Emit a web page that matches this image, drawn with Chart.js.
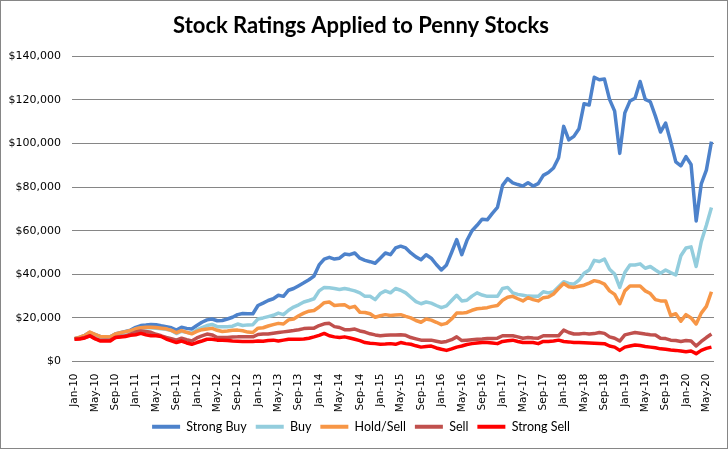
<!DOCTYPE html>
<html lang="en">
<head>
    <meta charset="UTF-8">
    <title>Stock Ratings Applied to Penny Stocks</title>
    <style>
        body {
            margin: 0;
            padding: 0;
            background-color: #fff;
        }
        canvas {
            display: block;
        }
    </style>
</head>
<body>
    <canvas id="lineChart" width="728" height="449"></canvas>

    <script src="https://cdn.jsdelivr.net/npm/chart.js"></script>
    <script>
        // Months Jan-10 .. Jun-20
        const monthNames = ['Jan', 'Feb', 'Mar', 'Apr', 'May', 'Jun', 'Jul', 'Aug', 'Sep', 'Oct', 'Nov', 'Dec'];
        const years = ['10', '11', '12', '13', '14', '15', '16', '17', '18', '19', '20'];
        const labels = [];
        years.forEach(y => {
            monthNames.forEach(m => labels.push(m + '-' + y));
        });
        labels.length = 126;

        const seriesNames = ['Strong Buy', 'Buy', 'Hold/Sell', 'Sell', 'Strong Sell'];
        const seriesColors = ['#4D82CB', '#93CDDD', '#F79646', '#C0504D', '#FF0000'];

        const strongBuy = [
            10500, 11000, 12000, 13300, 12300, 11500, 11300, 11300, 12600, 13200, 13800, 14400,
            15700, 16500, 16700, 17000, 16900, 16400, 16000, 15500, 14400, 15700, 15200, 14900,
            16500, 18000, 19100, 19500, 18700, 18800, 19500, 20300, 21500, 22000, 21900, 21900,
            25700, 26800, 28000, 28800, 30400, 29900, 32700, 33500, 34800, 36100, 37500, 39200,
            44300, 47000, 47800, 47000, 47400, 49300, 49000, 49800, 47400, 46400, 45800, 45100,
            47400, 49800, 49000, 52100, 52900, 52100, 49800, 48000, 46700, 49000, 47400, 44500,
            42000, 44300, 50000, 55900, 49000, 55500, 60000, 62500, 65300, 65000, 68000, 70700,
            80800, 83900, 82000, 81200, 80500, 82000, 80500, 81600, 85400, 86700, 88800, 93500,
            107900, 101700, 103300, 106800, 118300, 117700, 130400, 129300, 129600, 120300, 114900, 95500,
            114100, 119500, 120800, 128500, 120300, 119200, 112600, 105300, 109400, 100900, 91600, 89800,
            94000, 90400, 64500, 81500, 87800, 100900
        ];
        const buy = [
            10500, 11000, 12000, 13300, 12300, 11500, 11300, 11200, 12400, 13000, 13500, 14000,
            15000, 15300, 15500, 15500, 15300, 15000, 14800, 14200, 12800, 13900, 13400, 13000,
            14500, 15500, 16500, 17000, 16000, 16000, 16000, 16200, 17200, 16500, 16800, 16900,
            19500, 20000, 20600, 21200, 22200, 21500, 23500, 25000, 26000, 27300, 28000, 28800,
            32400, 34000, 33800, 33500, 33000, 33500, 33000, 32400, 31500, 29900, 29900, 28400,
            31200, 32400, 31500, 33500, 32700, 31500, 29500, 27500, 26500, 27300, 26800, 25700,
            24700, 25500, 28000, 30400, 27800, 28100, 30000, 31500, 30500, 29900, 29900, 29900,
            33500, 34000, 31500, 30800, 30400, 30000, 29900, 29900, 32000, 31500, 32000, 34300,
            36600, 35800, 35500, 37300, 40500, 42000, 46400, 45900, 47000, 42300, 40100, 34000,
            40800, 44300, 44300, 44800, 42800, 43600, 42000, 40500, 42000, 40800, 39700, 48500,
            52100, 52600, 43600, 55000, 62500, 70700
        ];
        const holdSell = [
            10500, 11200, 12000, 13500, 12500, 11500, 11400, 11300, 12600, 13200, 13700, 14200,
            15000, 15500, 15700, 15700, 15600, 15300, 15000, 14300, 13200, 14200, 13400, 12700,
            13800, 14600, 14900, 15200, 14300, 13800, 14000, 14300, 14400, 14100, 13500, 13300,
            15300, 15500, 16300, 16900, 17500, 17200, 19100, 19500, 21000, 22200, 23100, 23400,
            25000, 27000, 27300, 25700, 25900, 26000, 24700, 25300, 22600, 22500, 21900, 20300,
            21000, 21500, 21100, 21300, 21500, 20700, 20000, 18800, 18000, 19500, 19000, 18000,
            16900, 17500, 19500, 22200, 22200, 22500, 23500, 24200, 24400, 24700, 25300, 25700,
            28100, 29500, 29900, 28800, 27800, 29300, 28400, 27800, 29300, 29600, 31000, 33500,
            35800, 34300, 34000, 34500, 35000, 36000, 37100, 36600, 35500, 32400, 30800, 26500,
            32400, 34600, 34600, 34600, 32400, 31200, 28400, 27800, 27800, 21100, 21900, 18500,
            21500, 20000, 17200, 22200, 25300, 32000
        ];
        const sell = [
            10300, 10500, 11000, 11800, 10500, 9800, 9800, 9800, 11000, 11500, 11800, 12600,
            13500, 14000, 13800, 13400, 12500, 11800, 11000, 10500, 9800, 10700, 10000, 9400,
            10800, 11800, 12600, 12200, 11000, 11000, 11000, 11200, 11300, 11300, 11300, 11300,
            12400, 12600, 12600, 13000, 13300, 13600, 13900, 14200, 14600, 15100, 15300, 15300,
            16500, 17300, 17500, 16000, 15600, 14600, 14600, 14900, 14000, 13500, 12700, 12200,
            11800, 12000, 12200, 12200, 12300, 12000, 11000, 10400, 9800, 9800, 9800, 9300,
            8800, 9200, 10000, 11300, 9600, 9800, 10000, 10200, 10300, 10500, 10600, 10700,
            11800, 11800, 11800, 11300, 10700, 11000, 10800, 10700, 11800, 11800, 11800, 11800,
            14400, 13300, 12600, 12600, 12900, 12600, 12800, 13300, 12900, 11300, 10700, 9400,
            12200, 12800, 13300, 13000, 12600, 12300, 12200, 10700, 10500, 9800, 9600, 9200,
            9600, 9400, 7100, 9200, 11000, 12600
        ];
        const strongSell = [
            10200, 10300, 10800, 11800, 10500, 9400, 9400, 9400, 11000, 11200, 11500, 12000,
            12300, 12900, 12300, 11800, 11800, 11500, 10300, 9500, 8700, 9400, 8500, 7900,
            8700, 9400, 10200, 10200, 9800, 9800, 9600, 9400, 9300, 9200, 9200, 9200,
            9400, 9300, 9600, 9800, 9400, 9800, 10200, 10200, 10200, 10300, 10700, 11300,
            12000, 12900, 11800, 11300, 11000, 11300, 10800, 10200, 9600, 8700, 8400, 8200,
            7900, 8000, 8200, 7900, 8700, 8200, 7900, 7200, 6600, 6900, 7100, 6200,
            5600, 5100, 5800, 6600, 7100, 7800, 8200, 8500, 8700, 8700, 8500, 8200,
            9200, 9500, 9800, 9200, 8700, 8700, 8700, 8200, 9200, 9200, 9400, 9800,
            9200, 9000, 8700, 8700, 8600, 8500, 8400, 8300, 8200, 7100, 6600, 5100,
            6600, 7100, 7600, 7300, 6900, 6600, 6300, 5800, 5600, 5300, 5100, 4800,
            4500, 4800, 3600, 5100, 6000, 6600
        ];

        const yTicks = { min: 0, max: 140000, step: 20000 };

        const allSeries = [strongBuy, buy, holdSell, sell, strongSell];

        // white background + grey chart border like the original
        const frame = {
            id: 'frame',
            beforeDraw(chart) {
                const c = chart.ctx;
                c.save();
                c.fillStyle = '#fff';
                c.fillRect(0, 0, chart.width, chart.height);
                c.strokeStyle = '#868686';
                c.lineWidth = 1;
                c.strokeRect(0.5, 0.5, chart.width - 1, chart.height - 1);
                c.restore();
            }
        };

        function drawLineChart() {
            const ctx = document.getElementById('lineChart').getContext('2d');
            new Chart(ctx, {
                type: 'line',
                data: {
                    labels: labels,
                    datasets: allSeries.map((data, i) => ({
                        label: seriesNames[i],
                        data: data,
                        borderColor: seriesColors[i],
                        backgroundColor: seriesColors[i],
                        borderWidth: 3.5,
                        borderJoinStyle: 'round',
                        pointRadius: 0,
                        tension: 0,
                        fill: false,
                        order: allSeries.length - i
                    }))
                },
                options: {
                    responsive: false,
                    animation: false,
                    layout: { padding: { left: 8, right: 14, top: 0, bottom: 6 } },
                    plugins: {
                        title: {
                            display: true,
                            text: 'Stock Ratings Applied to Penny Stocks',
                            color: '#000',
                            font: { family: 'Lato', size: 22, weight: 'bold' },
                            padding: { top: 13, bottom: 17 }
                        },
                        legend: {
                            position: 'bottom',
                            labels: {
                                color: '#000',
                                font: { family: 'Lato', size: 12.5 },
                                boxWidth: 28,
                                boxHeight: 4,
                                padding: 9,
                                sort: (a, b) => a.datasetIndex - b.datasetIndex,
                                generateLabels: chart => Chart.defaults.plugins.legend.labels.generateLabels(chart)
                                    .map(item => Object.assign(item, { lineWidth: 0 }))
                            }
                        },
                        tooltip: { enabled: false }
                    },
                    scales: {
                        x: {
                            offset: true,
                            grid: { display: false },
                            border: { display: false },
                            ticks: {
                                autoSkip: false,
                                minRotation: 90,
                                maxRotation: 90,
                                color: '#000',
                                font: { family: 'DejaVu Sans', size: 10.5 },
                                padding: 4,
                                callback: function (v, i) {
                                    return i % 4 === 0 ? this.getLabelForValue(v) : null;
                                }
                            },
                            afterFit: scale => { scale.height = 50; }
                        },
                        y: {
                            min: yTicks.min,
                            max: yTicks.max,
                            grid: { color: '#868686', drawTicks: false },
                            border: { display: false },
                            ticks: {
                                stepSize: yTicks.step,
                                color: '#000',
                                font: { family: 'DejaVu Sans', size: 11 },
                                padding: 11,
                                callback: v => '$' + v.toLocaleString('en-US')
                            },
                            afterFit: scale => { scale.width = 64; }
                        }
                    }
                },
                plugins: [frame]
            });
        }

        drawLineChart();
    </script>
</body>
</html>
